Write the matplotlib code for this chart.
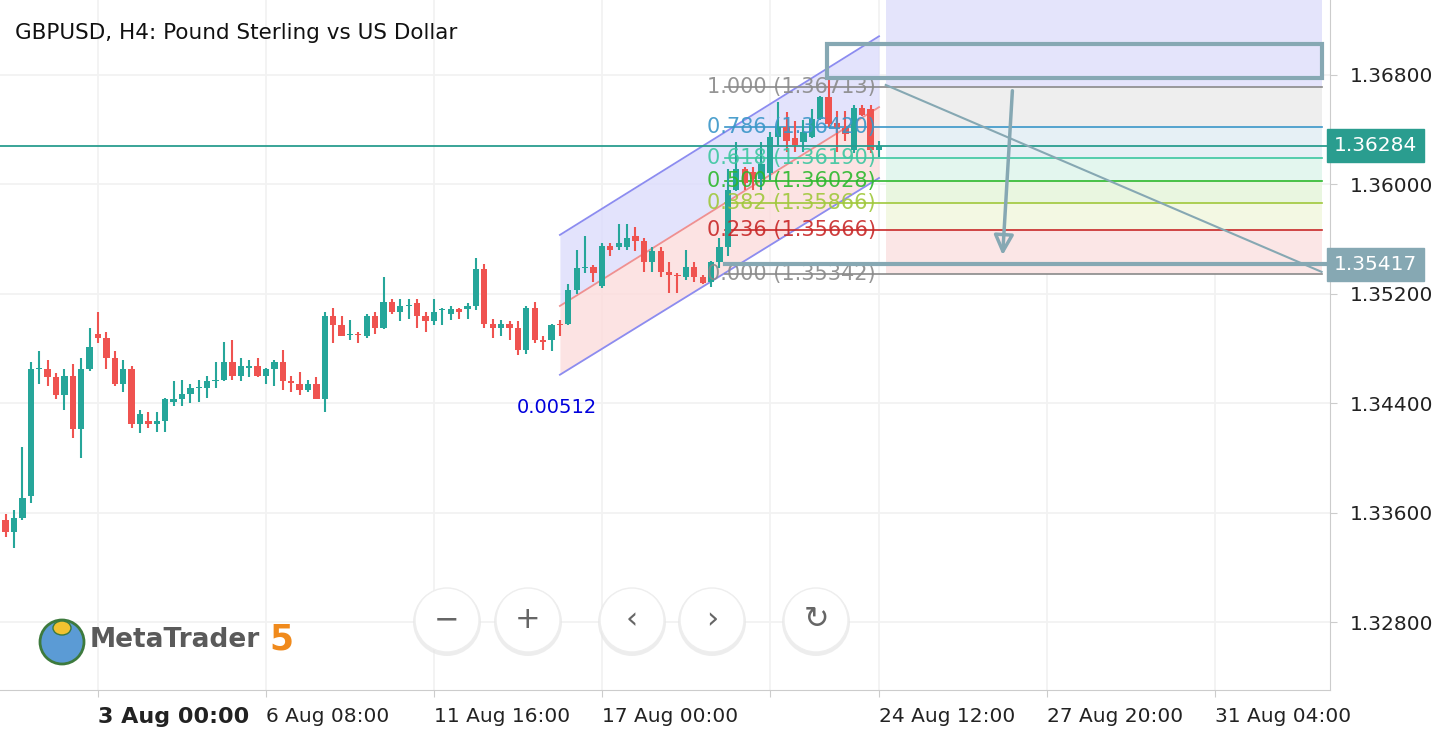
import matplotlib
matplotlib.use("Agg")
import matplotlib.pyplot as plt
from matplotlib.patches import Ellipse, FancyArrowPatch, Rectangle
import numpy as np

# ---- data ----
opens = [1.3355,1.3346,1.3356,1.3372,1.3465,1.3465,1.3459,1.3446,1.3460,1.3421,
         1.3465,1.3491,1.3488,1.3473,1.3454,1.3465,1.3425,1.3427,1.3425,1.3427,
         1.3441,1.3443,1.3447,1.3451,1.3451,1.3456,1.3457,1.3470,1.3460,1.3466,
         1.3467,1.3460,1.3465,1.3470,1.3456,1.3454,1.3450,1.3454,1.3443,1.3504,
         1.3497,1.3490,1.3491,1.3489,1.3504,1.3495,1.3514,1.3507,1.3511,1.3513,
         1.3504,1.3500,1.3508,1.3505,1.3509,1.3509,1.3511,1.3538,1.3498,1.3495,
         1.3498,1.3495,1.3479,1.3510,1.3486,1.3486,1.3498,1.3498,1.3523,1.3539,
         1.3540,1.3526,1.3555,1.3554,1.3554,1.3562,1.3559,1.3543,1.3551,1.3536,
         1.3534,1.3532,1.3540,1.3532,1.3529,1.3543,1.3554,1.3596,1.3611,1.3609,
         1.3604,1.3608,1.3635,1.3642,1.3634,1.3631,1.3635,1.3648,1.3664,1.3645,
         1.3641,1.3625,1.3656,1.3655,1.3625]
highs = [1.3359,1.3362,1.3408,1.3470,1.3478,1.3472,1.3462,1.3465,1.3469,1.3473,
         1.3495,1.3507,1.3492,1.3478,1.3472,1.3467,1.3435,1.3434,1.3434,1.3444,
         1.3456,1.3457,1.3454,1.3457,1.3460,1.3470,1.3485,1.3486,1.3473,1.3472,
         1.3473,1.3466,1.3472,1.3479,1.3460,1.3463,1.3457,1.3459,1.3507,1.3510,
         1.3504,1.3501,1.3492,1.3505,1.3507,1.3532,1.3516,1.3516,1.3516,1.3516,
         1.3507,1.3516,1.3510,1.3511,1.3510,1.3513,1.3546,1.3542,1.3502,1.3501,
         1.3500,1.3500,1.3511,1.3514,1.3489,1.3498,1.3501,1.3527,1.3552,1.3562,
         1.3541,1.3557,1.3557,1.3571,1.3571,1.3569,1.3561,1.3554,1.3554,1.3543,
         1.3535,1.3552,1.3543,1.3534,1.3544,1.3561,1.3611,1.3631,1.3613,1.3613,
         1.3631,1.3638,1.3660,1.3653,1.3646,1.3647,1.3655,1.3665,1.3676,1.3654,
         1.3654,1.3658,1.3658,1.3658,1.3632]
lows = [1.3342,1.3334,1.3355,1.3367,1.3454,1.3453,1.3443,1.3435,1.3415,1.3400,
        1.3464,1.3484,1.3465,1.3453,1.3448,1.3422,1.3418,1.3422,1.3419,1.3419,
        1.3438,1.3438,1.3440,1.3441,1.3444,1.3451,1.3456,1.3457,1.3456,1.3459,
        1.3459,1.3454,1.3453,1.3450,1.3448,1.3446,1.3448,1.3443,1.3434,1.3484,
        1.3489,1.3486,1.3484,1.3488,1.3491,1.3494,1.3505,1.3500,1.3502,1.3495,
        1.3492,1.3497,1.3497,1.3501,1.3502,1.3502,1.3508,1.3495,1.3488,1.3489,
        1.3486,1.3475,1.3476,1.3484,1.3479,1.3478,1.3489,1.3497,1.3520,1.3535,
        1.3529,1.3524,1.3548,1.3552,1.3552,1.3551,1.3536,1.3536,1.3532,1.3521,
        1.3521,1.3530,1.3529,1.3527,1.3525,1.3539,1.3548,1.3595,1.3596,1.3596,
        1.3596,1.3603,1.3627,1.3624,1.3624,1.3624,1.3634,1.3647,1.3642,1.3624,
        1.3632,1.3623,1.3650,1.3623,1.3620]
closes = [1.3346,1.3356,1.3371,1.3465,1.3466,1.3459,1.3446,1.3460,1.3421,1.3465,
          1.3481,1.3488,1.3473,1.3454,1.3465,1.3425,1.3432,1.3425,1.3427,1.3443,
          1.3443,1.3447,1.3451,1.3452,1.3456,1.3457,1.3470,1.3460,1.3467,1.3467,
          1.3460,1.3465,1.3470,1.3456,1.3455,1.3450,1.3454,1.3443,1.3504,1.3497,
          1.3489,1.3491,1.3490,1.3504,1.3495,1.3514,1.3507,1.3511,1.3512,1.3504,
          1.3500,1.3507,1.3509,1.3509,1.3507,1.3511,1.3538,1.3498,1.3495,1.3498,
          1.3495,1.3479,1.3510,1.3486,1.3485,1.3497,1.3497,1.3523,1.3539,1.3540,
          1.3535,1.3555,1.3552,1.3557,1.3561,1.3559,1.3543,1.3551,1.3536,1.3534,
          1.3533,1.3540,1.3532,1.3528,1.3543,1.3554,1.3596,1.3611,1.3601,1.3604,
          1.3615,1.3635,1.3642,1.3632,1.3629,1.3638,1.3648,1.3664,1.3644,1.3641,
          1.3637,1.3656,1.3651,1.3625,1.3628]
first_bar = -11   # bar index of first candle (3 Aug 00:00 = 0)

tick_pos = [0, 20, 40, 60, 80, 93, 113, 133]
tick_labels = ["3 Aug 00:00", "6 Aug 08:00", "11 Aug 16:00", "17 Aug 00:00", "",
               "24 Aug 12:00", "27 Aug 20:00", "31 Aug 04:00"]
y_ticks = [1.32800, 1.33600, 1.34400, 1.35200, 1.36000, 1.36800]

current_price = 1.36284
target_price = 1.35417

chan_x = [55, 93]
chan_upper = [1.35631, 1.37083]
chan_mid = [1.35112, 1.36565]
chan_lower = [1.34609, 1.36047]
chan_label = "0.00512"

fib_ratios = [1.000, 0.786, 0.618, 0.500, 0.382, 0.236, 0.000]
fib_prices = [1.36713, 1.36420, 1.36190, 1.36028, 1.35866, 1.35666, 1.35342]
fib_colors = ["#8a8a8a", "#3a96c8", "#3cc7a0", "#2db82d", "#a0c83c", "#c82828", "#8a8a8a"]
fib_fills = ["#eeeeee", "#e6f0f5", "#e3f6ee", "#e9f6e0", "#f3f8e3", "#fbe6e6"]
fib_x = [74.6, 145.7]
fill_x0 = 93.8

box_x = [86.8, 145.7]
box_prices = [1.36778, 1.37027]

# ---- figure ----
W, H = 1442, 740
fig = plt.figure(figsize=(W/100, H/100), dpi=100)
ax = fig.add_axes([0, 50/H, 1330/W, 690/H])
x0, x1 = -11.67, 146.7
ax.set_xlim(x0, x1)
ax.set_ylim(1.32305, 1.37348)

green, red = "#26a69a", "#ef5350"
idx = np.arange(len(opens)) + first_bar
o, h, l, c = map(np.array, (opens, highs, lows, closes))
cols = [green if cc >= oo else red for oo, cc in zip(o, c)]
ax.vlines(idx, l, h, colors=cols, lw=1.5, zorder=3)
ax.bar(idx, np.maximum(np.abs(c - o), 0.00004), bottom=np.minimum(o, c),
       width=0.75, color=cols, zorder=3)

# grid
for t in tick_pos:
    ax.axvline(t, color="#f2f2f2", lw=1.3, zorder=0)
for t in y_ticks:
    ax.axhline(t, color="#f2f2f2", lw=1.3, zorder=0)

# regression channel
ax.fill_between(chan_x, chan_mid, chan_upper, color="#dcdcfc", alpha=0.8, zorder=1, lw=0)
ax.fill_between(chan_x, chan_lower, chan_mid, color="#fcdcdc", alpha=0.8, zorder=1, lw=0)
ax.plot(chan_x, chan_upper, color="#8c8cf0", lw=1.3, zorder=2)
ax.plot(chan_x, chan_lower, color="#8c8cf0", lw=1.3, zorder=2)
ax.plot(chan_x, chan_mid, color="#f09090", lw=1.3, zorder=2)
ax.text(49.9, 1.34367, chan_label, color="#0000dd", fontsize=14, ha="left", va="center")

# fib
ax.fill_between([fill_x0, fib_x[1]], fib_prices[0], 1.38, color="#e4e4fb", zorder=0.5, lw=0)
for i in range(len(fib_prices) - 1):
    ax.fill_between([fill_x0, fib_x[1]], fib_prices[i+1], fib_prices[i],
                    color=fib_fills[i], zorder=0.5, lw=0)
for r, p, col in zip(fib_ratios, fib_prices, fib_colors):
    ax.plot(fib_x, [p, p], color=col, lw=1.2, zorder=2)
    ax.text(92.6, p, f"{r:.3f} ({p:.5f})", color=col, fontsize=15, ha="right",
            va="center", zorder=4, alpha=0.9)

box_col = "#86a8b3"
ax.add_patch(Rectangle((box_x[0], box_prices[0]), box_x[1] - box_x[0],
                       box_prices[1] - box_prices[0], fill=False, ec=box_col, lw=3, zorder=5))
ax.plot([fib_x[0], x1], [target_price, target_price], color=box_col, lw=3, zorder=5)
ax.plot([93.8, 145.7], [1.36727, 1.35361], color=box_col, lw=1.5, zorder=5)
ax.add_patch(FancyArrowPatch((108.9, 1.36705), (107.7, 1.35463),
                             arrowstyle="-|>,head_length=12,head_width=6",
                             color=box_col, lw=2.5, zorder=5, fill=False))

# current price line
ax.axhline(current_price, color="#2a9d8f", lw=1.3, zorder=4)

# axes styling
for s in ["top", "left"]:
    ax.spines[s].set_visible(False)
ax.spines["right"].set_color("#cccccc")
ax.spines["bottom"].set_color("#cccccc")
ax.yaxis.tick_right()
ax.set_yticks(y_ticks)
ax.set_yticklabels([f"{t:.5f}" for t in y_ticks], fontsize=14.5, color="#222222")
ax.tick_params(axis="y", length=5, color="#cccccc", pad=9)
ax.set_xticks(tick_pos)
ax.set_xticklabels(tick_labels, fontsize=14.5, color="#222222")
for lab in ax.get_xticklabels():
    lab.set_ha("left")
ax.get_xticklabels()[0].set_fontweight("bold")
ax.get_xticklabels()[0].set_fontsize(16)
ax.tick_params(axis="x", length=5, color="#cccccc", pad=7)

# price boxes
def price_box(p, bg):
    ax.text(1.003, p, f"{p:.5f}", transform=ax.get_yaxis_transform(), ha="left", va="center",
            fontsize=14.5, color="white", clip_on=False, zorder=6,
            bbox=dict(boxstyle="square,pad=0.35", fc=bg, ec=bg))
price_box(current_price, "#2a9d8f")
price_box(target_price, box_col)

# title
fig.text(15/W, 1 - 33/H, "GBPUSD, H4: Pound Sterling vs US Dollar", fontsize=15.5,
         color="#111111", va="center", ha="left")

# logo
fig.text(90/W, 1 - 640/H, "MetaTrader", fontsize=19, fontweight="bold", color="#5a5a5a",
         va="center", ha="left")
fig.text(269/W, 1 - 640/H, "5", fontsize=25, fontweight="bold", color="#f08a1c",
         va="center", ha="left")
fig.add_artist(Ellipse((62/W, 1 - 642/H), 44/W, 44/H, transform=fig.transFigure,
                       fc="#5b9bd5", ec="#3d7a3d", lw=2))
fig.add_artist(Ellipse((62/W, 1 - 628/H), 18/W, 14/H, transform=fig.transFigure,
                       fc="#f2c230", ec="#3d7a3d", lw=1))

# buttons
for bx, sym in zip([447, 528, 632, 712, 816], ["−", "+", "‹", "›", "↻"]):
    cx, cy = bx / W, 1 - 620 / H
    fig.add_artist(Ellipse((cx, cy - 2/H), 68/W, 68/H, transform=fig.transFigure,
                           fc="#e6e6e6", ec="none", alpha=0.7))
    fig.add_artist(Ellipse((cx, cy), 64/W, 64/H, transform=fig.transFigure,
                           fc="white", ec="#eeeeee", lw=1))
    fig.text(cx, cy, sym, fontsize=22, color="#666666", ha="center", va="center")

fig.savefig("out.png", dpi=100)
